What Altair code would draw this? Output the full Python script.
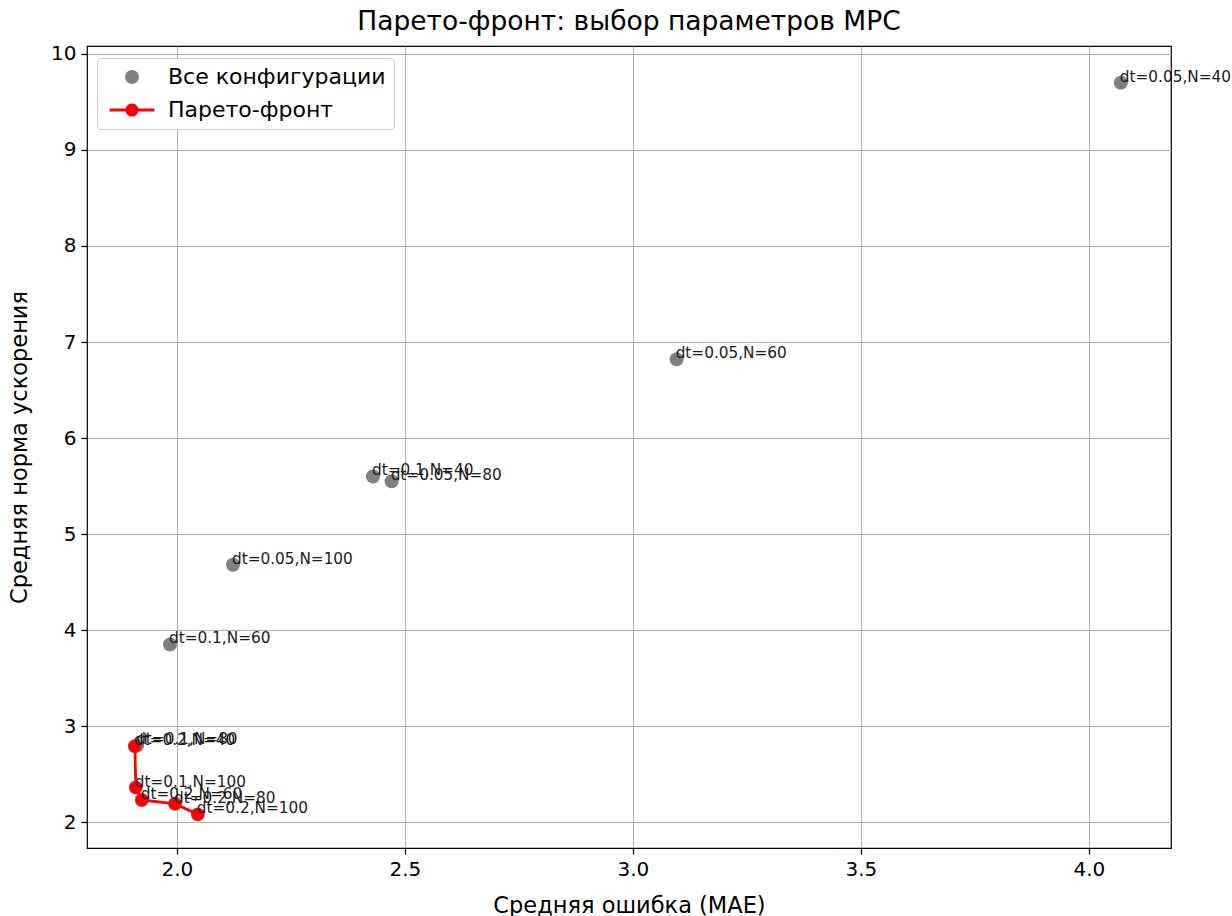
import altair as alt
import pandas as pd

# MPC parameter sweep: time step, horizon, mean tracking error and mean acceleration norm
dt_vals = [0.05, 0.05, 0.05, 0.05, 0.1, 0.1, 0.1, 0.1, 0.2, 0.2, 0.2, 0.2]
n_vals = [40, 60, 80, 100, 40, 60, 80, 100, 40, 60, 80, 100]
mae_vals = [4.070, 3.096, 2.471, 2.123, 2.430, 1.985, 1.913, 1.910, 1.908, 1.923, 1.996, 2.046]
acc_vals = [9.70, 6.82, 5.55, 4.68, 5.60, 3.85, 2.80, 2.36, 2.79, 2.23, 2.19, 2.08]

x_ticks = [2.0, 2.5, 3.0, 3.5, 4.0]
y_ticks = [2, 3, 4, 5, 6, 7, 8, 9, 10]

ALL = "Все конфигурации"
FRONT = "Парето-фронт"
FONT = "DejaVu Sans"

df = pd.DataFrame({
    "dt": dt_vals,
    "N": n_vals,
    "mae": mae_vals,
    "acc": acc_vals,
})
df["label"] = [f"dt={d},N={n}" for d, n in zip(dt_vals, n_vals)]
df["series"] = ALL

# non-dominated configurations (minimise both objectives)
def dominated(i):
    return any(
        (mae_vals[j] <= mae_vals[i] and acc_vals[j] <= acc_vals[i])
        and (mae_vals[j] < mae_vals[i] or acc_vals[j] < acc_vals[i])
        for j in range(len(mae_vals)) if j != i
    )

front = df[[not dominated(i) for i in range(len(df))]].sort_values("mae")

x_scale = alt.Scale(domain=[1.803, 4.18], nice=False, zero=False)
y_scale = alt.Scale(domain=[1.73, 10.083], nice=False, zero=False)
x_enc = alt.X("mae:Q", scale=x_scale, title="Средняя ошибка (MAE)",
              axis=alt.Axis(values=x_ticks, format=".1f"))
y_enc = alt.Y("acc:Q", scale=y_scale, title="Средняя норма ускорения",
              axis=alt.Axis(values=y_ticks, format="d"))

# legend symbol for the front: a red segment with a marker on it
front_symbol = ("M-3.2,-0.2H3.2V0.2H-3.2Z "
                "M0.93,0A0.93,0.93,0,1,1,-0.93,0A0.93,0.93,0,1,1,0.93,0Z")

legend = alt.Legend(
    title=None, orient="none", legendX=10, legendY=12,
    fillColor="white", strokeColor="#cccccc", cornerRadius=4,
    padding=8, symbolSize=196, symbolOffset=16, labelOffset=25,
    labelFont=FONT, labelFontSize=22, labelColor="black", labelLimit=0,
    rowPadding=11, symbolOpacity=1, symbolStrokeWidth=0,
)

points = alt.Chart(df).mark_point(filled=True, opacity=1, size=196).encode(
    x=x_enc, y=y_enc,
    color=alt.Color("series:N", scale=alt.Scale(domain=[ALL, FRONT], range=["#808080", "#ff0000"]), legend=legend),
    shape=alt.Shape("series:N", scale=alt.Scale(domain=[ALL, FRONT], range=["circle", front_symbol]), legend=legend),
)

front_line = alt.Chart(front).mark_line(color="#ff0000", strokeWidth=2.8).encode(
    x=x_enc, y=y_enc, order="mae:Q"
)
front_pts = alt.Chart(front).mark_circle(color="#ff0000", opacity=1, size=165).encode(
    x=x_enc, y=y_enc
)

labels = alt.Chart(df).mark_text(
    align="left", baseline="alphabetic", dx=-1, dy=-1,
    font=FONT, fontSize=15.3, color="#1a1a1a"
).encode(x=x_enc, y=y_enc, text="label:N")

chart = alt.layer(points, front_line, front_pts, labels).properties(
    width=1084, height=802,
    padding={"left": 87, "top": 46, "right": 61, "bottom": 68},
    autosize=alt.AutoSizeParams(type="none"),
    background="white",
    title=alt.Title("Парето-фронт: выбор параметров MPC", font=FONT, fontSize=26.5,
                    fontWeight="normal", color="black", offset=8),
).configure_view(
    stroke="black", strokeWidth=1.2
).configure_axis(
    domain=False, grid=True, gridColor="#b0b0b0", gridWidth=1, gridOpacity=1,
    tickColor="black", tickSize=6, tickWidth=1.2,
    labelFont=FONT, labelFontSize=20, labelColor="black", labelPadding=5,
    titleFont=FONT, titleFontSize=22.5, titleFontWeight="normal", titleColor="black",
).configure_axisX(titlePadding=15).configure_axisY(titlePadding=19)

chart.save("out.html", embed_options={"renderer": "svg", "actions": False})
